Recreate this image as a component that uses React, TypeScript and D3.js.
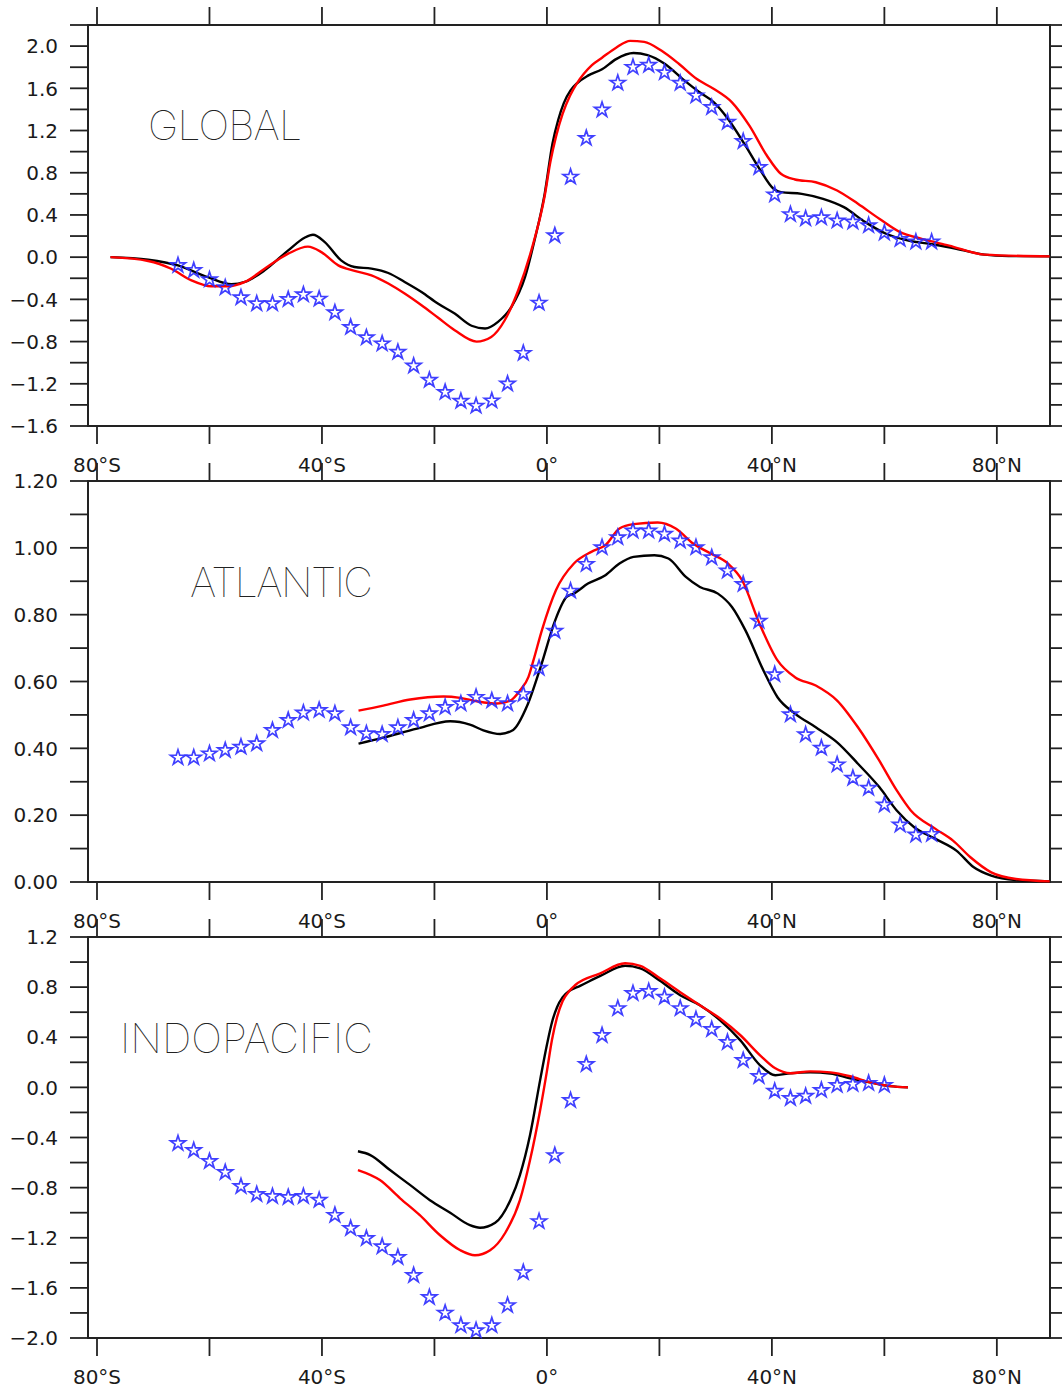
import { useEffect, useRef } from "react";
import * as d3 from "d3";

// latitude of the star markers (observational estimates)
const STAR_LAT = [
  -65.6, -62.8, -60.0, -57.2, -54.4, -51.6, -48.8, -46.0, -43.3, -40.5, -37.7, -34.9,
  -32.1, -29.3, -26.5, -23.7, -20.9, -18.1, -15.3, -12.6, -9.8, -7.0, -4.2, -1.4,
  1.4, 4.2, 7.0, 9.8, 12.6, 15.3, 18.1, 20.9, 23.7, 26.5, 29.3, 32.1, 34.9, 37.7,
  40.5, 43.3, 46.0, 48.8, 51.6, 54.4, 57.2, 60.0, 62.8, 65.6, 68.4,
];

const GLOBAL_STARS = [
  -0.078, -0.125, -0.213, -0.289, -0.383, -0.44, -0.44, -0.4, -0.355, -0.396, -0.525, -0.664,
  -0.762, -0.82, -0.9, -1.03, -1.165, -1.28, -1.364, -1.41, -1.36, -1.2, -0.91, -0.434,
  0.205, 0.76, 1.127, 1.396, 1.651, 1.8, 1.82, 1.75, 1.65, 1.53, 1.42, 1.28, 1.097, 0.851,
  0.592, 0.405, 0.365, 0.375, 0.345, 0.335, 0.3, 0.23, 0.17, 0.145, 0.145,
];

const ATLANTIC_STARS = [
  0.372, 0.372, 0.384, 0.394, 0.404, 0.414, 0.454, 0.484, 0.506, 0.514, 0.504, 0.462,
  0.444, 0.442, 0.462, 0.484, 0.504, 0.523, 0.534, 0.553, 0.543, 0.534, 0.562, 0.64,
  0.751, 0.871, 0.951, 1.001, 1.031, 1.051, 1.051, 1.041, 1.021, 1.001, 0.971, 0.931, 0.891, 0.781,
  0.621, 0.501, 0.441, 0.401, 0.351, 0.311, 0.281, 0.231, 0.171, 0.141, 0.143,
];

const INDOPACIFIC_STARS = [
  -0.447, -0.503, -0.59, -0.678, -0.79, -0.854, -0.87, -0.877, -0.87, -0.9, -1.02, -1.125,
  -1.205, -1.27, -1.356, -1.5, -1.676, -1.8, -1.9, -1.94, -1.9, -1.74, -1.477, -1.07,
  -0.543, -0.104, 0.184, 0.415, 0.63, 0.75, 0.766, 0.72, 0.63, 0.543, 0.463, 0.36, 0.216, 0.088,
  -0.03, -0.087, -0.07, -0.023, 0.017, 0.025, 0.033, 0.017, null, null, null,
];

// model curves, [lat, value]
const GLOBAL_BLACK = [
  [-77.6, 0], [-70.9, -0.024], [-65.6, -0.078], [-60.3, -0.19], [-56.1, -0.257], [-53.7, -0.235],
  [-50.2, -0.125], [-46.0, 0.064], [-43.1, 0.184], [-41.6, 0.213], [-39.5, 0.143], [-36.6, -0.03],
  [-34.2, -0.093], [-31.2, -0.109], [-28.2, -0.15], [-25.3, -0.235], [-22.3, -0.33], [-19.4, -0.44],
  [-16.4, -0.535], [-13.4, -0.65], [-11.0, -0.676], [-8.7, -0.613], [-6.3, -0.47], [-3.9, -0.19],
  [-2.2, 0.16], [-0.4, 0.6], [1.0, 1.08], [2.0, 1.3], [3.0, 1.46], [4.2, 1.58], [5.4, 1.65],
  [7.3, 1.72], [9.8, 1.78], [12.3, 1.877], [15.4, 1.934], [17.9, 1.915], [21.0, 1.83],
  [24.1, 1.69], [27.2, 1.56], [29.7, 1.467], [32.2, 1.31], [35.3, 1.057], [37.8, 0.837],
  [40.3, 0.648], [41.6, 0.616], [45.3, 0.6], [49.1, 0.553], [52.8, 0.474], [56.6, 0.332],
  [60.3, 0.222], [64.1, 0.159], [69.0, 0.118], [72.8, 0.08], [77.8, 0.024], [82.1, 0.01],
  [89.4, 0.007],
];

const GLOBAL_RED = [
  [-77.6, 0], [-70.9, -0.036], [-66.8, -0.11], [-63.2, -0.22], [-59.7, -0.276], [-56.7, -0.276],
  [-53.7, -0.235], [-50.2, -0.11], [-46.0, 0.033], [-42.5, 0.1], [-40.1, 0.048], [-37.1, -0.078],
  [-34.2, -0.13], [-31.2, -0.172], [-28.2, -0.25], [-25.3, -0.345], [-22.3, -0.456], [-19.4, -0.572],
  [-16.4, -0.692], [-12.5, -0.8], [-9.9, -0.756], [-7.5, -0.598], [-5.1, -0.314], [-2.8, 0.06],
  [-0.4, 0.58], [0.6, 0.9], [1.6, 1.14], [2.8, 1.36], [4.1, 1.53], [5.3, 1.645], [6.6, 1.74],
  [8.0, 1.82], [9.8, 1.89], [12.3, 1.985], [14.8, 2.05], [17.3, 2.04], [20.4, 1.955], [23.5, 1.83],
  [26.6, 1.69], [29.7, 1.593], [32.9, 1.467], [36.0, 1.246], [39.1, 0.963], [41.6, 0.79],
  [44.1, 0.736], [47.8, 0.71], [51.6, 0.632], [55.3, 0.506], [59.1, 0.364], [62.8, 0.237],
  [66.5, 0.175], [71.5, 0.11], [77.8, 0.024], [89.4, 0.007],
];

const ATLANTIC_BLACK = [
  [-33.5, 0.414], [-29.1, 0.432], [-23.1, 0.459], [-17.2, 0.481], [-13.7, 0.471], [-11.3, 0.454],
  [-8.3, 0.443], [-6.0, 0.455], [-3.5, 0.528], [-1.0, 0.65], [1.4, 0.78], [3.5, 0.853],
  [4.8, 0.863], [7.3, 0.893], [10.4, 0.918], [12.9, 0.953], [15.4, 0.973], [19.1, 0.978],
  [21.6, 0.968], [24.7, 0.913], [27.2, 0.883], [30.4, 0.863], [32.9, 0.823], [35.3, 0.753],
  [38.5, 0.633], [41.0, 0.553], [44.1, 0.504], [47.8, 0.463], [51.6, 0.418], [55.3, 0.354],
  [59.1, 0.284], [62.2, 0.214], [65.3, 0.164], [69.1, 0.129], [72.8, 0.094], [75.9, 0.044],
  [79.0, 0.019], [83.4, 0.006], [89.4, 0.002],
];

const ATLANTIC_RED = [
  [-33.5, 0.513], [-29.1, 0.528], [-24.3, 0.546], [-18.4, 0.555], [-15.4, 0.551], [-12.5, 0.541],
  [-8.9, 0.534], [-6.5, 0.543], [-4.8, 0.573], [-3.3, 0.613], [-2.4, 0.663], [-0.9, 0.753],
  [1.6, 0.873], [4.8, 0.953], [7.9, 0.988], [10.4, 1.008], [12.9, 1.058], [15.4, 1.071],
  [19.7, 1.076], [22.9, 1.058], [26.0, 1.013], [29.1, 0.983], [32.2, 0.953], [34.7, 0.903],
  [37.8, 0.773], [41.0, 0.663], [44.1, 0.613], [47.8, 0.588], [51.6, 0.543], [55.3, 0.463],
  [59.1, 0.363], [62.2, 0.274], [64.7, 0.214], [69.1, 0.159], [72.2, 0.124], [75.3, 0.074],
  [79.0, 0.029], [83.4, 0.009], [89.4, 0.002],
];

const INDOPACIFIC_BLACK = [
  [-33.6, -0.51], [-31.4, -0.54], [-27.9, -0.66], [-24.3, -0.78], [-20.8, -0.9], [-17.2, -1.0],
  [-13.7, -1.1], [-11.9, -1.12], [-9.2, -1.08], [-6.5, -0.9], [-4.8, -0.7], [-3.0, -0.38],
  [-1.2, 0.06], [0.0, 0.34], [0.9, 0.52], [1.8, 0.64], [2.8, 0.72], [4.0, 0.77], [5.9, 0.81],
  [9.5, 0.89], [13.9, 0.97], [16.6, 0.95], [20.1, 0.85], [23.7, 0.735], [27.2, 0.655],
  [30.8, 0.535], [34.4, 0.375], [37.9, 0.176], [40.6, 0.097], [43.3, 0.113], [46.8, 0.12],
  [50.4, 0.11], [53.9, 0.073], [57.5, 0.04], [61.0, 0.01], [64.2, 0],
];

const INDOPACIFIC_RED = [
  [-33.6, -0.66], [-29.7, -0.74], [-26.1, -0.885], [-22.6, -1.02], [-19.0, -1.18], [-15.4, -1.3],
  [-12.8, -1.34], [-10.1, -1.3], [-7.4, -1.16], [-4.8, -0.9], [-3.0, -0.58], [-1.2, -0.18],
  [0.0, 0.13], [0.9, 0.38], [1.8, 0.56], [2.8, 0.69], [4.0, 0.77], [5.0, 0.815], [9.5, 0.91],
  [13.9, 0.99], [16.6, 0.97], [20.1, 0.87], [23.7, 0.76], [27.2, 0.655], [30.8, 0.55],
  [34.4, 0.416], [37.9, 0.256], [40.6, 0.152], [43.3, 0.113], [46.8, 0.128], [50.4, 0.12],
  [53.9, 0.089], [57.5, 0.04], [61.0, 0.01], [64.2, 0],
];

const X_MAJOR = [-80, -40, 0, 40, 80];
const X_LABELS = ["80°S", "40°S", "0°", "40°N", "80°N"];
const X_MINOR = [-60, -20, 20, 60];

const GLOBAL_YLAB = [2.0, 1.6, 1.2, 0.8, 0.4, 0.0, -0.4, -0.8, -1.2, -1.6];
const GLOBAL_YMIN = [2.2, 1.8, 1.4, 1.0, 0.6, 0.2, -0.2, -0.6, -1.0, -1.4];
const ATLANTIC_YLAB = [1.2, 1.0, 0.8, 0.6, 0.4, 0.2, 0.0];
const ATLANTIC_YMIN = [1.1, 0.9, 0.7, 0.5, 0.3, 0.1];
const INDO_YLAB = [1.2, 0.8, 0.4, 0.0, -0.4, -0.8, -1.2, -1.6, -2.0];
const INDO_YMIN = [1.0, 0.6, 0.2, -0.2, -0.6, -1.0, -1.4, -1.8];

const PANELS = [
  {
    title: "GLOBAL", titleX: 148, titleY: 140, titleW: 154,
    top: 25, domain: [-1.6, 2.2], ylab: GLOBAL_YLAB, ymin: GLOBAL_YMIN, fmt: d3.format(".1f"),
    black: GLOBAL_BLACK, red: GLOBAL_RED, stars: GLOBAL_STARS,
  },
  {
    title: "ATLANTIC", titleX: 190, titleY: 597, titleW: 183,
    top: 481, domain: [0, 1.2], ylab: ATLANTIC_YLAB, ymin: ATLANTIC_YMIN, fmt: d3.format(".2f"),
    black: ATLANTIC_BLACK, red: ATLANTIC_RED, stars: ATLANTIC_STARS,
  },
  {
    title: "INDOPACIFIC", titleX: 120, titleY: 1053, titleW: 253,
    top: 937, domain: [-2.0, 1.2], ylab: INDO_YLAB, ymin: INDO_YMIN, fmt: d3.format(".1f"),
    black: INDOPACIFIC_BLACK, red: INDOPACIFIC_RED, stars: INDOPACIFIC_STARS,
  },
];

const W = 1062;
const H = 1389;
const LEFT = 88;
const RIGHT = 1050;
const PH = 401;
const TICK = 18;
const FONT = "DejaVu Sans, Verdana, sans-serif";

export default function App() {
  const ref = useRef<SVGSVGElement | null>(null);

  useEffect(() => {
    if (!ref.current) return;
    const svg = d3.select(ref.current);
    svg.selectAll("*").remove();

    const x = d3.scaleLinear().domain([-81.6, 89.45]).range([LEFT, RIGHT]);

    PANELS.forEach((p) => {
      const bottom = p.top + PH;
      const y = d3.scaleLinear().domain(p.domain).range([bottom, p.top]);
      const g = svg.append("g");

      // y ticks, both sides, outward
      [...p.ylab, ...p.ymin].forEach((v) => {
        g.append("line").attr("x1", LEFT - TICK).attr("x2", LEFT).attr("y1", y(v)).attr("y2", y(v))
          .attr("stroke", "#222").attr("stroke-width", 1.8);
        g.append("line").attr("x1", RIGHT).attr("x2", RIGHT + TICK).attr("y1", y(v)).attr("y2", y(v))
          .attr("stroke", "#222").attr("stroke-width", 1.8);
      });
      p.ylab.forEach((v) => {
        g.append("text").attr("x", 58).attr("y", y(v)).attr("dy", "0.36em")
          .attr("text-anchor", "end").attr("font-family", FONT).attr("font-size", 20)
          .attr("fill", "#1a1a1a").text(p.fmt(v));
      });

      // x ticks, top and bottom, outward
      [...X_MAJOR, ...X_MINOR].forEach((v) => {
        g.append("line").attr("x1", x(v)).attr("x2", x(v)).attr("y1", p.top - TICK).attr("y2", p.top)
          .attr("stroke", "#222").attr("stroke-width", 1.8);
        g.append("line").attr("x1", x(v)).attr("x2", x(v)).attr("y1", bottom).attr("y2", bottom + TICK)
          .attr("stroke", "#222").attr("stroke-width", 1.8);
      });
      X_MAJOR.forEach((v, i) => {
        g.append("text").attr("x", x(v)).attr("y", bottom + 46).attr("text-anchor", "middle")
          .attr("font-family", FONT).attr("font-size", 20).attr("fill", "#1a1a1a").text(X_LABELS[i]);
      });

      g.append("rect").attr("x", LEFT).attr("y", p.top).attr("width", RIGHT - LEFT).attr("height", PH)
        .attr("fill", "none").attr("stroke", "#222").attr("stroke-width", 2);

      g.append("text").attr("x", p.titleX).attr("y", p.titleY)
        .attr("font-family", "Inter, Lato, sans-serif").attr("font-weight", 100)
        .attr("font-size", 41).attr("fill", "#222")
        .attr("textLength", p.titleW).attr("lengthAdjust", "spacing").text(p.title);

      const line = d3.line<number[]>().x((d) => x(d[0])).y((d) => y(d[1])).curve(d3.curveMonotoneX);
      g.append("path").datum(p.black).attr("d", line).attr("fill", "none")
        .attr("stroke", "#000").attr("stroke-width", 2.4).attr("stroke-linejoin", "round");
      g.append("path").datum(p.red).attr("d", line).attr("fill", "none")
        .attr("stroke", "#ff0000").attr("stroke-width", 2.4).attr("stroke-linejoin", "round");

      const star = d3.symbol().type(d3.symbolStar).size(70)();
      STAR_LAT.forEach((lat, i) => {
        const v = p.stars[i];
        if (v === null || v === undefined) return;
        g.append("path").attr("d", star).attr("transform", `translate(${x(lat)},${y(v)})`)
          .attr("fill", "none").attr("stroke", "#2b2bff").attr("stroke-width", 1.7)
          .attr("stroke-linejoin", "miter").attr("stroke-opacity", 0.9);
      });
    });
  }, []);

  return (
    <svg
      ref={ref}
      width={W}
      height={H}
      style={{ position: "absolute", left: 0, top: 0, background: "#fff" }}
    />
  );
}
